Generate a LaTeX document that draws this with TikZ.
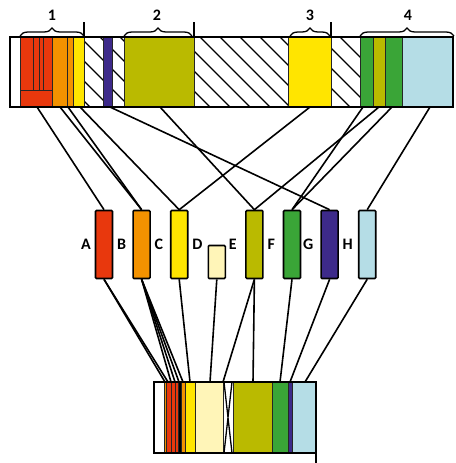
\documentclass[tikz,border=0pt]{standalone}
\usepackage{tikz}
\usepackage{fontspec}
\setmainfont{Carlito}
\usetikzlibrary{positioning,decorations.pathreplacing}
\definecolor{cred}{RGB}{232,56,13}
\definecolor{corange}{RGB}{243,146,0}
\definecolor{cyellow}{RGB}{255,229,0}
\definecolor{cpale}{RGB}{255,245,184}
\definecolor{colive}{RGB}{186,186,0}
\definecolor{cgreen}{RGB}{58,165,55}
\definecolor{cpurple}{RGB}{61,42,138}
\definecolor{ccyan}{RGB}{181,221,230}

\begin{document}
\begin{tikzpicture}[x=1pt,y=-1pt,line width=1.6pt,font=\fontsize{16}{18}\selectfont\bfseries]

	\tikzstyle{box}=[draw=black,line width=1.6pt,rounded corners=1pt,minimum width=17pt,minimum height=68pt,inner sep=0pt]
	\tikzstyle{lab}=[inner sep=0pt]
	\tikzstyle{seg}=[draw=black!85,line width=0.9pt]
	\tikzstyle{bar}=[draw=black,line width=1.8pt]
	\tikzstyle{brc}=[line width=1.3pt,decorate,decoration={brace,amplitude=8pt}]

	\useasboundingbox (0,0) rectangle (455,463);

	\fill[white] (10,37) rectangle (453,107);
	\begin{scope}
	\clip (84,37) rectangle (103,107) (112,37) rectangle (124,107) (194,37) rectangle (288,107) (331,37) rectangle (360,107);
	\foreach \x in {-60,-40,...,460} \draw[line width=1.3pt] (\x,37) -- ++(70,70);
	\end{scope}
	\filldraw[seg,fill=cred] (20,37) rectangle (52,107);
	\draw[seg] (33,37) -- (33,90) (39,37) -- (39,90) (43,37) -- (43,90) (20,90) -- (52,90);
	\filldraw[seg,fill=corange] (52,37) rectangle (73,107);
	\draw[seg] (67,37) -- (67,107);
	\filldraw[seg,fill=cyellow] (73,37) rectangle (84,107);
	\filldraw[seg,fill=cpurple] (103,37) rectangle (112,107);
	\filldraw[seg,fill=colive] (124,37) rectangle (194,107);
	\filldraw[seg,fill=cyellow] (288,37) rectangle (331,107);
	\filldraw[seg,fill=cgreen] (360,37) rectangle (373,107);
	\filldraw[seg,fill=colive] (373,37) rectangle (385,107);
	\filldraw[seg,fill=cgreen] (385,37) rectangle (402,107);
	\filldraw[seg,fill=ccyan] (402,37) rectangle (453,107);
	\draw[bar] (10,37) rectangle (453,107);

	\draw[brc] (20,36) -- (84,36);
	\draw[brc] (124,36) -- (192,36);
	\draw[brc] (290,36) -- (330,36);
	\draw[brc] (360,36) -- (454,36);
	\draw (84,22) -- (84,37);
	\draw (194,22) -- (194,37);
	\draw (331,22) -- (331,37);
	\node[lab] (g1) at (52,15) {1};
	\node[lab] (g2) at (157,15) {2};
	\node[lab] (g3) at (310,15) {3};
	\node[lab] (g4) at (408,15) {4};

	\node[box,fill=cred] (red) at (104,244.5) {};
	\node[box,fill=corange,right=19pt of red] (orange) {};
	\node[box,fill=cyellow,right=19pt of orange] (yellow) {};
	\node[box,fill=cpale,minimum height=33pt,right=19pt of yellow.south east,anchor=south west] (pale) {};
	\node[box,fill=colive,right=19pt of pale.south east,anchor=south west] (olive) {};
	\node[box,fill=cgreen,right=19pt of olive] (green) {};
	\node[box,fill=cpurple,right=19pt of green] (purple) {};
	\node[box,fill=ccyan,right=19pt of purple] (cyan) {};

	\node[lab,left=3pt of red] (la) {A};
	\node[lab,right=3pt of red] (lb) {B};
	\node[lab,right=3pt of orange] (lc) {C};
	\node[lab,right=3pt of yellow] (ld) {D};
	\node[lab,anchor=west,xshift=2pt] (le) at (pale.east |- red.east) {E};
	\node[lab,right=3pt of olive] (lf) {F};
	\node[lab,right=1pt of green] (lg) {G};
	\node[lab,right=3pt of purple] (lh) {H};

	\fill[white] (154,382) rectangle (316,453);
	\filldraw[seg,fill=corange] (164,382) rectangle (166,453);
	\filldraw[seg,fill=cred] (166,382) rectangle (171,453);
	\filldraw[seg,fill=cred] (171,382) rectangle (175,453);
	\filldraw[seg,fill=cred] (175,382) rectangle (178,453);
	\filldraw[seg,fill=black] (178,382) rectangle (181,453);
	\filldraw[seg,fill=corange] (181,382) rectangle (185,453);
	\filldraw[seg,fill=cyellow] (185,382) rectangle (195,453);
	\filldraw[seg,fill=cpale] (195,382) rectangle (223,453);
	\filldraw[seg,fill=colive] (233,382) rectangle (272,453);
	\filldraw[seg,fill=cgreen] (272,382) rectangle (288,453);
	\filldraw[seg,fill=cpurple] (288,382) rectangle (292,453);
	\filldraw[seg,fill=ccyan] (292,382) rectangle (316,453);
	\draw[line width=1.3pt] (224,382) -- (232,453) (232,382) -- (224,453);
	\draw[bar] (154,382) rectangle (316,453);
	\draw[bar] (316,453) -- (316,463);

	\coordinate (tred) at (37,107);
	\coordinate (torange1) at (60,107);
	\coordinate (torange2) at (68,107);
	\coordinate (tyellow1) at (80,107);
	\coordinate (tpurple) at (110,107);
	\coordinate (tolive1) at (160,107);
	\coordinate (tyellow2) at (310,107);
	\coordinate (tgreen1) at (363,107);
	\coordinate (tolive2) at (379,107);
	\coordinate (tgreen2) at (392,107);
	\coordinate (tcyan) at (430,107);

	\coordinate (bred1) at (165,382);
	\coordinate (bred2) at (168,382);
	\coordinate (borange1) at (171,382);
	\coordinate (borange2) at (175,382);
	\coordinate (borange3) at (179,382);
	\coordinate (borange4) at (183,382);
	\coordinate (byellow) at (190,382);
	\coordinate (bpale) at (210,382);
	\coordinate (bolive1) at (223,382);
	\coordinate (bolive2) at (253,382);
	\coordinate (bgreen) at (280,382);
	\coordinate (bpurple) at (290,382);
	\coordinate (bcyan) at (305,382);

	\draw (tred) -- (red.north);
	\draw (torange1) -- (orange.north);
	\draw (torange2) -- (orange.north);
	\draw (tyellow1) -- (yellow.north);
	\draw (tpurple) -- (purple.north);
	\draw (tolive1) -- (olive.north);
	\draw (tyellow2) -- (yellow.north);
	\draw (tgreen1) -- (green.north);
	\draw (tolive2) -- (olive.north);
	\draw (tgreen2) -- (green.north);
	\draw (tcyan) -- (cyan.north);

	\draw (red.south) -- (bred1);
	\draw (red.south) -- (bred2);
	\draw (orange.south) -- (borange1);
	\draw (orange.south) -- (borange2);
	\draw (orange.south) -- (borange3);
	\draw (orange.south) -- (borange4);
	\draw (yellow.south) -- (byellow);
	\draw (pale.south) -- (bpale);
	\draw (olive.south) -- (bolive1);
	\draw (olive.south) -- (bolive2);
	\draw (green.south) -- (bgreen);
	\draw (purple.south) -- (bpurple);
	\draw (cyan.south) -- (bcyan);
\end{tikzpicture}
\end{document}
